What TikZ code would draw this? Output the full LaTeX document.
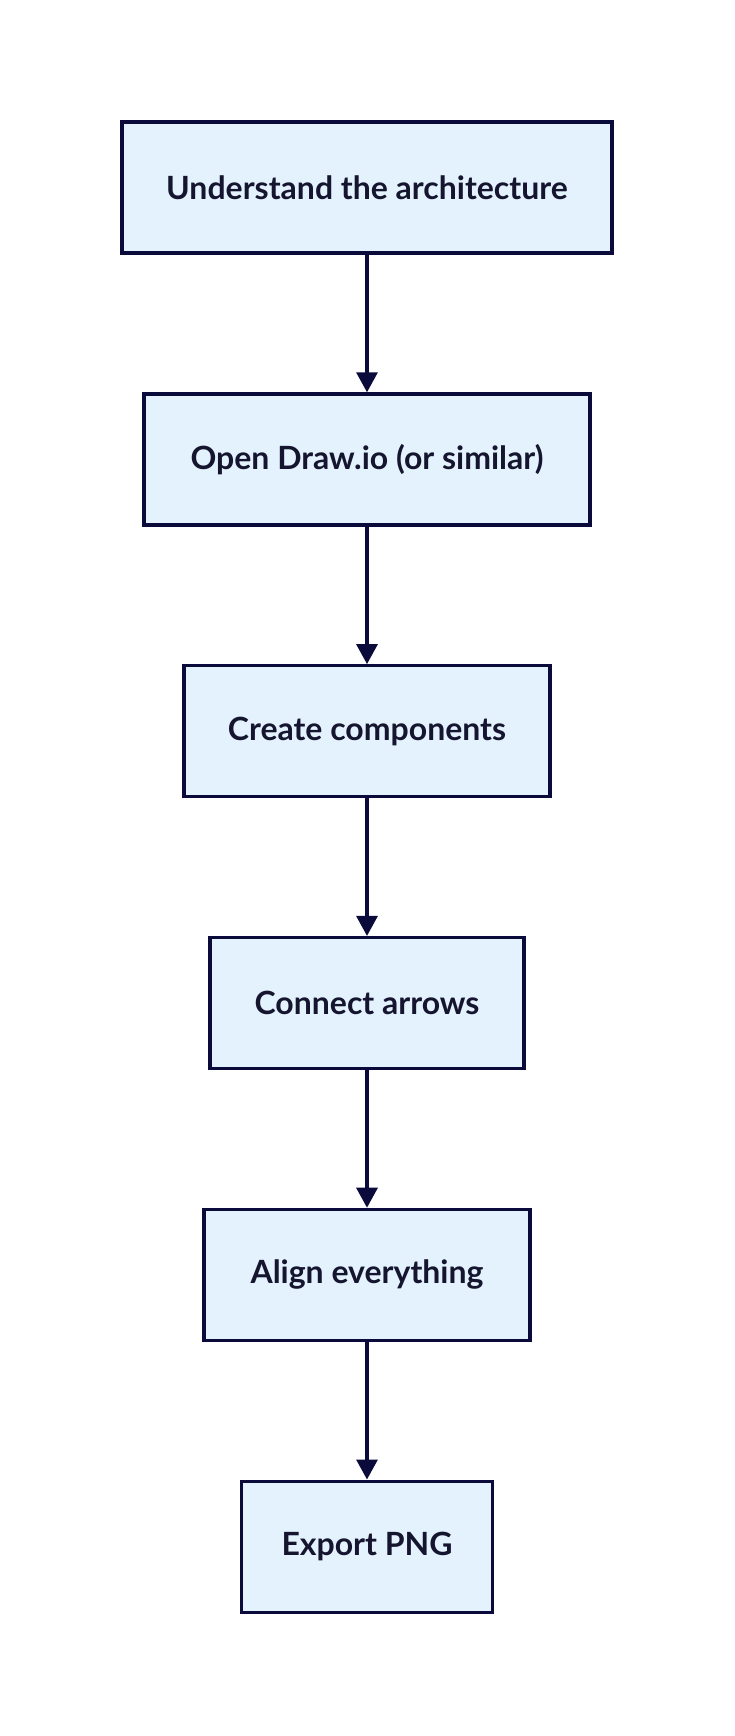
\documentclass[tikz,border=0pt]{standalone}
\usepackage{fontspec}
\setmainfont{Lato}
\usetikzlibrary{positioning,arrows.meta}
\definecolor{boxfill}{HTML}{E3F2FD}
\definecolor{boxline}{HTML}{0B0B3B}
\definecolor{boxtext}{HTML}{151530}
\tikzset{>={Triangle[length=20pt,width=21pt]}}

\begin{document}
\begin{tikzpicture}[x=1pt, y=1pt]
                % steps of the workflow, top to bottom
                \tikzstyle{every node}=[rectangle, draw=boxline, fill=boxfill, line width=3.2pt,
                        minimum height=131pt, inner sep=0pt, text=boxtext,
                        font=\fontsize{32}{38}\selectfont\bfseries, node distance=137.6pt]
                \tikzstyle{flow}=[boxline, line width=3.2pt, ->]
                \useasboundingbox (0, 0) rectangle (734, -1736);

                \node[minimum width=490pt] (understand) at (367, -187.6) {Understand the architecture};
                \node[minimum width=446pt] (open) [below = of understand] {Open Draw.io (or similar)};
                \node[minimum width=366pt] (create) [below = of open] {Create components};
                \node[minimum width=314pt] (connect) [below = of create] {Connect arrows};
                \node[minimum width=326pt] (align) [below = of connect] {Align everything};
                \node[minimum width=251pt] (export) [below = of align] {Export PNG};

                \draw[flow] (understand) -- (open);
                \draw[flow] (open) -- (create);
                \draw[flow] (create) -- (connect);
                \draw[flow] (connect) -- (align);
                \draw[flow] (align) -- (export);
        \end{tikzpicture}
\end{document}
